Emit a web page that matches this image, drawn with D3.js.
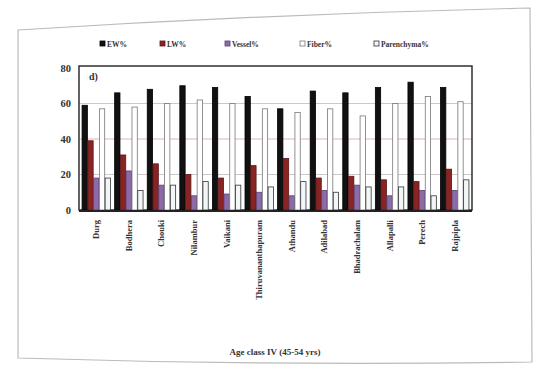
<!DOCTYPE html>
<html><head><meta charset="utf-8">
<script src="https://cdn.jsdelivr.net/npm/d3@7"></script>
<style>body{margin:0;background:#fff}svg{display:block}text{font-family:"Liberation Serif",serif}</style>
</head><body><svg id="c" width="543" height="370"></svg>
<script>
const categories=["Durg","Bodhera","Chouki","Nilambur","Vaikani","Thiruvananthapuram","Athandu","Adilabad","Bhadrachalam","Allapalli","Perech","Rajpipla"];
const series=["EW%","LW%","Vessel%","Fiber%","Parenchyma%"];
const ew=[59,66,68,70,69,64,57,67,66,69,72,69];
const lw=[39,31,26,20,18,25,29,18,19,17,16,23];
const vessel=[18,22,14,8,9,10,8,11,14,8,11,11];
const fiber=[57,58,60,62,60,57,55,57,53,60,64,61];
const parenchyma=[18,11,14,16,14,13,16,10,13,13,8,17];
const yTicks=[0,20,40,60,80];
const values=[ew,lw,vessel,fiber,parenchyma];
const fills=["#111","#8a2424","#8d6aa8","#fff","#f2f6f6"];
const strokes=["#000","#5a1414","#5a3f78","#777","#333"];

const svg=d3.select("#c");
svg.append("path").attr("d","M18,30 Q270,14 530,8 L532,362 Q270,366 18,358 Z").attr("fill","none").attr("stroke","#bbb").attr("stroke-width",1.2);

const L=79,R=472,T=66,B=210;
const y=d3.scaleLinear().domain([0,80]).range([B,T+2]);
const x=d3.scaleBand().domain(categories).range([L,R]).paddingInner(0.1).paddingOuter(0.08);
const xs=d3.scaleBand().domain(series).range([0,x.bandwidth()]).padding(0.08);

svg.append("g").selectAll("line").data(yTicks.filter(d=>d>0&&d<80)).join("line")
 .attr("x1",L).attr("x2",R).attr("y1",d=>y(d)).attr("y2",d=>y(d)).attr("stroke",(d,i)=>i==1?"#d9a0a0":"#bbb").attr("stroke-width",0.8);

svg.append("rect").attr("x",L).attr("y",T).attr("width",R-L).attr("height",B-T).attr("fill","none").attr("stroke","#222").attr("stroke-width",1.4);

series.forEach((s,si)=>{
  svg.append("g").selectAll("rect").data(categories).join("rect")
   .attr("x",c=>x(c)+xs(s)).attr("width",xs.bandwidth())
   .attr("y",(c,i)=>y(values[si][i])).attr("height",(c,i)=>B-y(values[si][i]))
   .attr("fill",fills[si]).attr("stroke",strokes[si]).attr("stroke-width",0.8);
});

const ya=svg.append("g").attr("transform",`translate(${L},0)`).call(d3.axisLeft(y).tickValues(yTicks).tickSize(0).tickPadding(8));
ya.select(".domain").remove();
ya.selectAll("text").attr("font-size",10.5).attr("fill","#333").attr("font-weight","bold").attr("font-family","Liberation Serif");

svg.append("line").attr("x1",L).attr("x2",R).attr("y1",B+1).attr("y2",B+1).attr("stroke","#222").attr("stroke-width",2);
const xa=svg.append("g").attr("transform",`translate(0,${B})`).call(d3.axisBottom(x).tickSize(0).tickPadding(0));
xa.select(".domain").remove();
xa.selectAll("text").attr("transform","rotate(-90)").attr("text-anchor","end").attr("x",-10).attr("y",0).attr("dy","0.35em")
 .attr("font-size",8.5).attr("fill","#333").attr("font-weight","bold").attr("font-family","Liberation Serif");

svg.append("text").attr("x",L+10).attr("y",T+14).attr("font-size",10).attr("fill","#333").attr("font-weight","bold").text("d)");

const legX=[100,160,225,300,374];
series.forEach((s,i)=>{
  svg.append("rect").attr("x",legX[i]).attr("y",41).attr("width",5).attr("height",5).attr("fill",fills[i]).attr("stroke",strokes[i]).attr("stroke-width",0.8);
  svg.append("text").attr("x",legX[i]+7).attr("y",46.5).attr("font-size",7.5).attr("fill","#333").attr("font-weight","bold").text(s);
});

svg.append("text").attr("x",275).attr("y",355).attr("text-anchor","middle").attr("font-size",9).attr("fill","#333").attr("font-weight","bold").text("Age class IV (45-54 yrs)");
</script></body></html>
